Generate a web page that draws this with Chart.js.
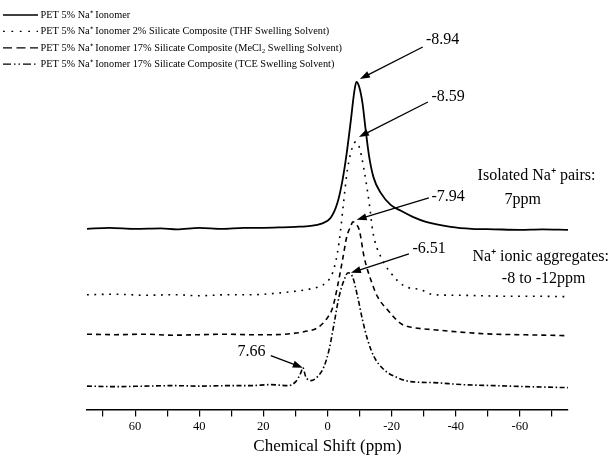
<!DOCTYPE html>
<html>
<head>
<meta charset="utf-8">
<script src="https://cdn.jsdelivr.net/npm/chart.js@4/dist/chart.umd.min.js"></script>
<style>
  html, body { margin: 0; background: #fff; }
  #wrap { width: 615px; height: 465px; }
</style>
</head>
<body>
<div id="wrap"><canvas id="nmr" width="615" height="465"></canvas></div>
<script>
// 23Na NMR spectra, stacked. x = chemical shift (ppm), y = intensity incl. vertical offset (a.u.)
const seriesNames = [
  "PET 5% Na⁺ Ionomer",
  "PET 5% Na⁺ Ionomer 2% Silicate Composite (THF Swelling Solvent)",
  "PET 5% Na⁺ Ionomer 17% Silicate Composite (MeCl₂ Swelling Solvent)",
  "PET 5% Na⁺ Ionomer 17% Silicate Composite (TCE Swelling Solvent)",
];

const petPpm = [75, 68, 60, 52, 47, 40, 33, 26, 20, 14, 10, 5.2, 2.1, -1.0, -3.1, -4.7, -6.0, -7.3, -8.3, -9.0,
  -9.9, -10.9, -11.9, -13.0, -14.4, -16.6, -19.7, -22.9, -26.6, -30.7, -38.4, -45, -52, -60, -67, -75];
const petInt = [181, 182, 181, 181.5, 180.5, 182, 181, 182, 182, 182.5, 183, 184, 186, 192, 207, 230, 257, 290, 317, 328,
  323, 307, 280, 253, 232, 217, 205, 199, 193, 188, 183, 181, 180.5, 180, 180.5, 180];

const thfPpm = [75, 66, 57, 48, 40, 31, 24, 17.7, 11.4, 5.2, 0.5, -1.6, -3.1, -4.1, -5.0, -6.2, -7.8, -8.8, -9.9,
  -11.4, -13.0, -14.2, -16.6, -19.7, -23.8, -29.1, -33.1, -40, -48, -56, -65, -75];
const thfInt = [115, 115.5, 114.5, 115, 114, 115, 115, 116, 118, 121, 127, 137, 157, 180, 207, 240, 263, 268, 263,
  240, 207, 177, 153, 137, 124, 120, 115, 114.5, 114, 113.5, 113.5, 113];

const mecl2Ppm = [75, 66, 57, 48, 40, 31, 23.9, 17.7, 11.4, 7.3, 3.1, 0.5, -1.6, -3.1, -4.7, -6.0, -7.3, -7.9, -8.8,
  -9.9, -11.4, -13.5, -15.6, -18.7, -22.9, -27, -33.1, -43.7, -52, -60, -68, -75];
const mecl2Int = [75.5, 75, 75.5, 74.5, 75, 75.5, 75, 75, 76, 78, 82, 90, 102, 123, 150, 173, 184, 188, 186,
  180, 153, 130, 113, 100, 86, 82, 80, 77, 75.5, 75, 74.5, 74];

const tcePpm = [75, 66, 57, 48, 40, 31, 23.9, 17.7, 12.5, 9.9, 8.3, 7.7, 6.8, 5.2, 3.1, 1.1, -0.5, -2.1, -3.6, -5.2,
  -6.4, -7.8, -9.4, -10.9, -12.5, -14.5, -17.6, -21.8, -26.0, -33.1, -42, -52, -62, -75];
const tceInt = [23.5, 23, 23.5, 24, 23.5, 24, 24, 25, 24, 28, 37, 42, 33, 29, 33, 43, 60, 87, 113, 130,
  137, 133, 113, 90, 70, 53, 40, 32, 28, 27, 25, 24, 23, 22];

const tickVals = [70, 60, 50, 40, 30, 20, 10, 0, -10, -20, -30, -40, -50, -60, -70];

// peak call-outs: label, text anchor, arrow tail and tip (ppm, a.u.)
const calloutText = ["-8.94", "-8.59", "-7.94", "-6.51", "7.66"];
const calloutTextPpm = [-30.7, -32.4, -32.4, -26.5, 28.1];
const calloutTextInt = [370, 313, 213, 161, 58];
const calloutTailPpm = [-29.7, -31.3, -31.6, -25.4, 17.7];
const calloutTailInt = [363, 308, 212, 156, 54];
const calloutTipPpm = [-10.1, -9.8, -9.1, -7.3, 7.7];
const calloutTipInt = [331, 273, 190, 137, 42];

// assignment notes on the right
const noteText = ["Isolated Na⁺ pairs:", "7ppm", "Na⁺ ionic aggregates:", "-8 to -12ppm"];
const notePpm = [-46.8, -60.9, -45.2, -67.4];
const noteInt = [234, 210, 153, 131];
const noteAlign = ["left", "center", "left", "center"];

const SERIF = '"Liberation Serif", "Times New Roman", serif';
const pts = (xs, ys) => xs.map((x, i) => ({ x, y: ys[i] }));

const lineDash = [[], [1.8, 5.6], [5, 4], [5, 2.5, 1.5, 2.5]];
const keyDash = [[], [1.8, 6.6], [9, 4.5], [8, 3, 1.5, 3, 1.5, 3]];
const lineData = [pts(petPpm, petInt), pts(thfPpm, thfInt), pts(mecl2Ppm, mecl2Int), pts(tcePpm, tceInt)];

const notesPlugin = {
  id: "notes",
  afterDraw(chart) {
    const { ctx, scales: { x, y } } = chart;
    ctx.save();
    ctx.fillStyle = "#000";
    ctx.strokeStyle = "#000";

    // legend, stacked top-left
    ctx.font = `10.3px ${SERIF}`;
    ctx.textBaseline = "middle";
    ctx.textAlign = "left";
    chart.data.datasets.forEach((ds, i) => {
      const ly = 15 + i * 16.4;
      ctx.beginPath();
      ctx.lineWidth = 1.3;
      ctx.setLineDash(ds.keyDash);
      ctx.moveTo(3, ly);
      ctx.lineTo(38, ly);
      ctx.stroke();
      ctx.setLineDash([]);
      ctx.fillText(ds.label, 40.5, ly);
    });

    // arrows + values
    ctx.font = `16px ${SERIF}`;
    calloutText.forEach((t, i) => {
      const x0 = x.getPixelForValue(calloutTailPpm[i]), y0 = y.getPixelForValue(calloutTailInt[i]);
      const x1 = x.getPixelForValue(calloutTipPpm[i]), y1 = y.getPixelForValue(calloutTipInt[i]);
      const a = Math.atan2(y1 - y0, x1 - x0);
      ctx.lineWidth = 1.3;
      ctx.beginPath();
      ctx.moveTo(x0, y0);
      ctx.lineTo(x1 - 8 * Math.cos(a), y1 - 8 * Math.sin(a));
      ctx.stroke();
      ctx.beginPath();
      ctx.moveTo(x1, y1);
      ctx.lineTo(x1 - 10 * Math.cos(a) + 3.5 * Math.sin(a), y1 - 10 * Math.sin(a) - 3.5 * Math.cos(a));
      ctx.lineTo(x1 - 10 * Math.cos(a) - 3.5 * Math.sin(a), y1 - 10 * Math.sin(a) + 3.5 * Math.cos(a));
      ctx.closePath();
      ctx.fill();
      ctx.fillText(t, x.getPixelForValue(calloutTextPpm[i]), y.getPixelForValue(calloutTextInt[i]));
    });

    noteText.forEach((t, i) => {
      ctx.textAlign = noteAlign[i];
      ctx.fillText(t, x.getPixelForValue(notePpm[i]), y.getPixelForValue(noteInt[i]));
    });
    ctx.restore();
  },
};

new Chart(document.getElementById("nmr"), {
  type: "line",
  data: {
    datasets: seriesNames.map((label, i) => ({
      label,
      data: lineData[i],
      borderColor: "#000",
      borderWidth: i === 0 ? 1.8 : 1.6,
      borderDash: lineDash[i],
      keyDash: keyDash[i],
      pointRadius: 0,
      fill: false,
      cubicInterpolationMode: "monotone",
    })),
  },
  options: {
    responsive: false,
    animation: false,
    devicePixelRatio: 1,
    layout: { padding: { left: 87, right: 47, top: 70, bottom: 8 } },
    plugins: { legend: { display: false }, tooltip: { enabled: false } },
    scales: {
      x: {
        type: "linear",
        reverse: true,
        min: -75,
        max: 75,
        afterBuildTicks: (s) => { s.ticks = tickVals.map((v) => ({ value: v })); },
        ticks: {
          autoSkip: false,
          maxRotation: 0,
          color: "#000",
          padding: 3,
          font: { family: SERIF, size: 12.5 },
          callback: (v) => (v % 20 === 0 ? String(v) : ""),
        },
        grid: { drawOnChartArea: false, drawTicks: true, tickLength: 7, color: "#000", lineWidth: 1.2 },
        border: { display: true, color: "#000", width: 1.5 },
        title: {
          display: true,
          text: "Chemical Shift (ppm)",
          color: "#000",
          font: { family: SERIF, size: 17 },
          padding: { top: -1, bottom: 0 },
        },
      },
      y: { display: false, min: 0, max: 340 },
    },
  },
  plugins: [notesPlugin],
});
</script>
</body>
</html>
